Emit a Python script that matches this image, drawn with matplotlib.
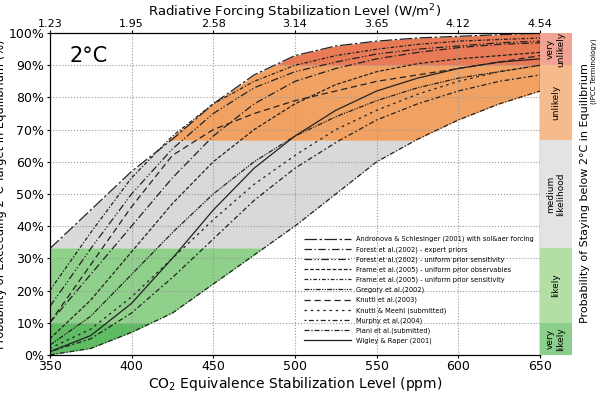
import matplotlib.pyplot as plt
import numpy as np

ppm = [350, 375, 400, 425, 450, 475, 500, 525, 550, 575, 600, 625, 650]
forcing_labels = ["1.23", "1.95", "2.58", "3.14", "3.65", "4.12", "4.54"]

studies = {
    "Andronova & Schlesinger (2001) with sol&aer forcing": [33, 45, 57, 67, 78, 87, 93, 96, 97.5, 98.5, 99, 99.5, 100],
    "Forest et al.(2002) - expert priors": [10, 25, 40, 55, 68, 78, 85, 89, 92, 94, 95.5, 96.5, 97],
    "Forest et al.(2002) - uniform prior sensitivity": [15, 33, 50, 64, 75, 83, 88, 91, 93.5, 95, 96, 97, 97.5],
    "Frame et al.(2005) - uniform prior observables": [5, 17, 32, 47, 60, 70, 78, 84, 88, 90.5, 92, 93, 94],
    "Frame et al.(2005) - uniform prior sensitivity": [20, 38, 55, 68, 78, 85, 90, 93, 95, 96.5, 97.5, 98, 98.5],
    "Gregory et al.(2002)": [3, 12, 25, 38, 50, 60, 68, 74, 79, 83, 86, 88, 90],
    "Knutti et al.(2003)": [10, 28, 46, 62, 70, 75, 79, 82, 85, 87, 89, 91, 93],
    "Knutti & Meehl (submitted)": [2, 8, 18, 30, 42, 53, 62, 70, 76, 81, 85, 88, 90],
    "Murphy et al.(2004)": [1, 5, 13, 24, 36, 48, 58, 66, 73, 78, 82, 85, 87],
    "Piani et al.(submitted)": [0, 2, 7, 13, 22, 31, 40, 50, 60, 67, 73, 78, 82],
    "Wigley & Raper (2001)": [1, 6, 16, 30, 45, 58, 68, 76, 82, 86, 89, 91, 92],
}
styles = [
    (0, (10, 2, 2, 2)), (0, (6, 2, 1, 2)), (0, (6, 2, 1, 1.5, 1, 2)), (0, (3, 1.5)),
    (0, (3, 1.5, 1, 1.5)), (0, (4, 1, 1, 1, 1, 1)), (0, (5, 3)), (0, (2, 3)),
    (0, (1.5, 2, 4, 2)), (0, (4, 1.5, 1, 1.5)), "-",
]

bands = [(0, 10, "#5fbc62"), (10, 33.3, "#8fd08a"), (33.3, 66.7, "#d9d9d9"),
         (66.7, 90, "#f1a262"), (90, 100, "#e97a56")]
side = [(0, 10, "#8ccf8c", "very\nlikely"), (10, 33.3, "#b3dea4", "likely"),
        (33.3, 66.7, "#e3e3e3", "medium\nlikelihood"), (66.7, 90, "#f6bb8c", "unlikely"),
        (90, 100, "#f2a494", "very\nunlikely")]

fig = plt.figure(figsize=(6.0, 4.19), dpi=100)
ax = fig.add_axes([0.083, 0.153, 0.817, 0.768])
xf = np.linspace(350, 650, 301)
curves = np.array([np.interp(xf, ppm, v) for v in studies.values()])
lo, hi = curves.min(axis=0), curves.max(axis=0)
for b0, b1, c in bands:
    ax.fill_between(xf, np.clip(lo, b0, b1), np.clip(hi, b0, b1), color=c, lw=0)
for (name, v), ls in zip(studies.items(), styles):
    ax.plot(xf, np.interp(xf, ppm, v), color="#222222", lw=0.9, ls=ls, label=name)
ax.set_xlim(350, 650)
ax.set_ylim(0, 100)
ax.set_xticks(ppm[::2])
ax.set_yticks(range(0, 101, 10))
ax.set_yticklabels([f"{t}%" for t in range(0, 101, 10)])
ax.grid(True, ls=":", color="#999999", lw=0.8)
ax.tick_params(labelsize=9, length=2, pad=2)
ax.set_xlabel("CO$_2$ Equivalence Stabilization Level (ppm)", fontsize=10, labelpad=1)
ax.set_ylabel("Probability of Exceeding 2°C Target in Equilibrium (%)", fontsize=8.3, labelpad=1)
ax.text(362, 91, "2°C", fontsize=15)
ax.legend(loc="lower right", bbox_to_anchor=(1.0, 0.015), fontsize=4.8, frameon=False,
          handlelength=7, labelspacing=0.55)
top = ax.twiny()
top.set_xlim(350, 650)
top.set_xticks(ppm[::2])
top.set_xticklabels(forcing_labels)
top.tick_params(labelsize=8, length=2, pad=1)
top.set_xlabel("Radiative Forcing Stabilization Level (W/m$^2$)", fontsize=9.5, labelpad=2)

sax = fig.add_axes([0.9, 0.153, 0.053, 0.768])
for b0, b1, c, t in side:
    sax.axhspan(b0, b1, color=c, lw=0)
    sax.text(0.5, (b0 + b1) / 2, t, rotation=90, ha="center", va="center", fontsize=6.5)
sax.set_xlim(0, 1)
sax.set_ylim(0, 100)
sax.axis("off")
fig.text(0.975, 0.54, "Probability of Staying below 2°C in Equilibrium", rotation=90,
         ha="center", va="center", fontsize=8)
fig.text(0.99, 0.83, "(IPCC Terminology)", rotation=90, ha="center", va="center", fontsize=5)
fig.savefig("out.png")
